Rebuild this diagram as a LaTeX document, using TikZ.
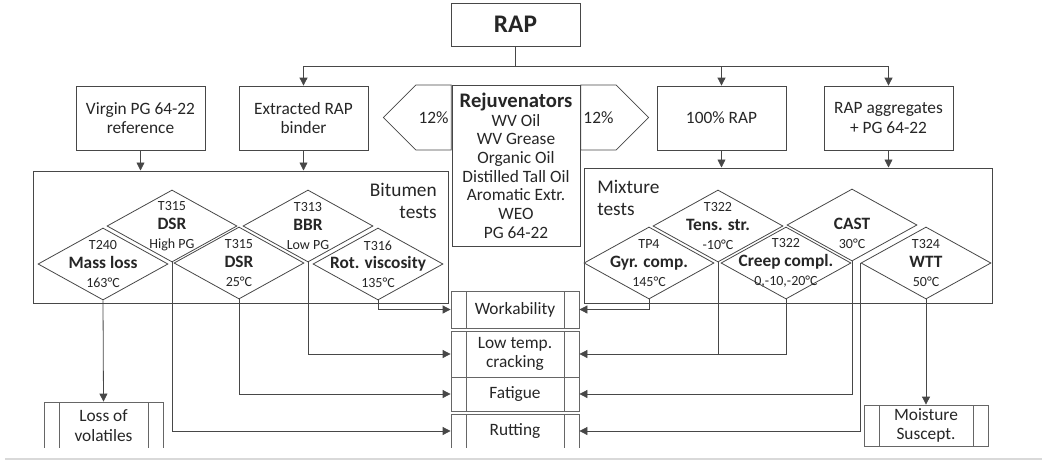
\documentclass[tikz,border=0pt]{standalone}
\usepackage{fontspec}
\setmainfont{Carlito}
\usetikzlibrary{shapes.geometric, shapes.symbols, arrows.meta}

\newcommand{\tcode}{\fontsize{10.5}{14}\selectfont}
\newcommand{\tname}{\fontsize{13}{14}\selectfont\bfseries}

\begin{document}
\begin{tikzpicture}[x=0.75pt,y=0.75pt,yscale=-1,xscale=1,
	line/.style={draw=black!72, line width=0.6pt},
	arr/.style={line, -{Triangle[length=6pt,width=6pt]}},
	box/.style={line, rectangle, inner sep=0pt, align=center, text=black!85, font=\fontsize{13}{14.5}\selectfont},
	input/.style={box, minimum width=96.75pt, minimum height=48pt},
	group/.style={draw=black!72, line width=0.75pt, rectangle, inner sep=0pt},
	pct/.style={line, signal, signal pointer angle=90, inner xsep=2pt, minimum height=48.75pt, minimum width=50.25pt, text=black!85, font=\fontsize{13}{14.5}\selectfont},
	test/.style={line, diamond, fill=white, inner sep=0pt, minimum width=97.5pt, minimum height=54pt},
	testtext/.style={align=center, inner sep=0pt, text=black!85, font=\tcode},
	outcome/.style={box, draw=black!60, minimum width=96pt,
		path picture={\draw[black!60] ([xshift=11.25pt]path picture bounding box.north west) -- ([xshift=11.25pt]path picture bounding box.south west);
			\draw[black!60] ([xshift=-11.25pt]path picture bounding box.north east) -- ([xshift=-11.25pt]path picture bounding box.south east);}},
	]
\useasboundingbox (0,0) rectangle (1042,461);

\begin{scope}
\clip (0,0) rectangle (1042,447.2);

%Shape: Rectangle
\node[box, minimum width=96.75pt, minimum height=32.25pt, font=\fontsize{19}{20}\selectfont\bfseries] (rap) at (515.5,24.5) {RAP};
\coordinate (bus) at (515.5,66);

%Shape: Rectangle
\node[input] (virgin) at (140.5,118) {Virgin PG 64-22\\reference};
\node[input] (extr) at (303.5,118) {Extracted RAP\\binder};
\node[input] (full) at (721.5,118) {100\% RAP};
\node[input] (agg) at (888.5,118) {RAP aggregates\\+ PG 64-22};

%Shape: Rectangle
\node[box, minimum width=96pt, minimum height=120.75pt, font=\fontsize{13}{14}\selectfont] (rejuv) at (516,165.5) {{\fontsize{15.5}{14}\selectfont\bfseries Rejuvenators}\\WV Oil\\WV Grease\\Organic Oil\\Distilled Tall Oil\\Aromatic Extr.\\WEO\\PG 64-22};

%Shape: Pentagons
\node[pct, signal to=west, anchor=north east] (pctl) at (rejuv.north west) {12\%};
\node[pct, signal to=east, anchor=north west] (pctr) at (rejuv.north east) {12\%};

%Shape: Rectangle
\node[group, minimum width=311.25pt, minimum height=99pt] (bit) at (240.5,237) {};
\node[group, minimum width=306pt, minimum height=101.25pt] (mix) at (788,235.5) {};

% Text Node
\node[anchor=north east, inner sep=0pt, align=right, text=black!85, font=\fontsize{14.5}{16.5}\selectfont] (bitlab) at (437,183) {Bitumen\\tests};
% Text Node
\node[anchor=north west, inner sep=0pt, align=left, text=black!85, font=\fontsize{14.5}{16.5}\selectfont] (mixlab) at (597,180) {Mixture\\tests};

%Shape: Diamond
\node[test] (dsrh) at (172,226) {};
\node[testtext] (dsrh-t) at (dsrh) {T315\\{\tname DSR}\\High PG};
\node[test] (bbr) at (308,226) {};
\node[testtext] (bbr-t) at (bbr) {T313\\{\tname BBR}\\Low PG};
\node[test] (mass) at (103,264) {};
\node[testtext] (mass-t) at (mass) {T240\\{\tname Mass loss}\\163°C};
\node[test] (dsrl) at (239,263) {};
\node[testtext] (dsrl-t) at (dsrl) {T315\\{\tname DSR}\\25°C};
\node[test] (rot) at (378,264) {};
\node[testtext] (rot-t) at (rot) {T316\\{\tname Rot. viscosity}\\135°C};

%Shape: Diamond
\node[test] (tens) at (718,226) {};
\node[testtext] (tens-t) at (tens) {T322\\{\tname Tens. str.}\\-10°C};
\node[test] (cast) at (852,225) {};
\node[testtext] (cast-t) at (cast) {\phantom{T}\\{\tname CAST}\\30°C};
\node[test] (gyr) at (649,263) {};
\node[testtext] (gyr-t) at (gyr) {TP4\\{\tname Gyr. comp.}\\145°C};
\node[test] (creep) at (786,263) {};
\node[testtext] (creep-t) at (creep) {T322\\{\tname Creep compl.}\\0,-10,-20°C};
\node[test] (wtt) at (926,263) {};
\node[testtext] (wtt-t) at (wtt) {T324\\{\tname WTT}\\50°C};

%Shape: Predefined Process
\node[outcome, minimum height=27.75pt] (work) at (515,309.5) {Workability};
\node[outcome, minimum height=34.5pt] (low) at (515,354) {Low temp.\\cracking};
\node[outcome, minimum height=25.5pt] (fat) at (515,394) {Fatigue};
\node[outcome, minimum height=25.5pt] (rut) at (515,431) {Rutting};
\node[outcome, minimum width=89.25pt, minimum height=35.25pt] (volat) at (103.5,425.5) {Loss of\\volatiles};
\node[outcome, minimum width=93pt, minimum height=30.75pt] (moist) at (926,425.5) {Moisture\\Suscept.};

%Straight Lines
\draw[arr] (rap.south) -- (bus) -| (extr.north);
\draw[arr] (bus) -| (full.north);
\draw[arr] (bus) -| (agg.north);
\draw[arr] (virgin.south) -- (virgin.south |- bit.north);
\draw[arr] (extr.south) -- (extr.south |- bit.north);
\draw[arr] (full.south) -- (full.south |- mix.north);
\draw[arr] (agg.south) -- (agg.south |- mix.north);

%Straight Lines
\draw[arr] (mass.south) -- (volat.north);
\draw[arr] (dsrh.south) |- (rut.west);
\draw[arr] (dsrl.south) |- (fat.west);
\draw[arr] (bbr.south) |- (low.west);
\draw[arr] (rot.south) |- (work.west);

%Straight Lines
\draw[arr] (gyr.south) |- (work.east);
\draw (tens.south) -- (tens.south |- low.east) [line];
\draw[arr] (creep.south) |- (low.east);
\draw[arr] (cast.south) |- (fat.east);
\draw[arr] (wtt.west) |- (rut.east);
\draw[arr] (wtt.south) -- (moist.north);
\end{scope}

%Straight Lines
\draw[black!15, line width=0.8pt] (5,459) -- (1042,459);

\end{tikzpicture}
\end{document}
